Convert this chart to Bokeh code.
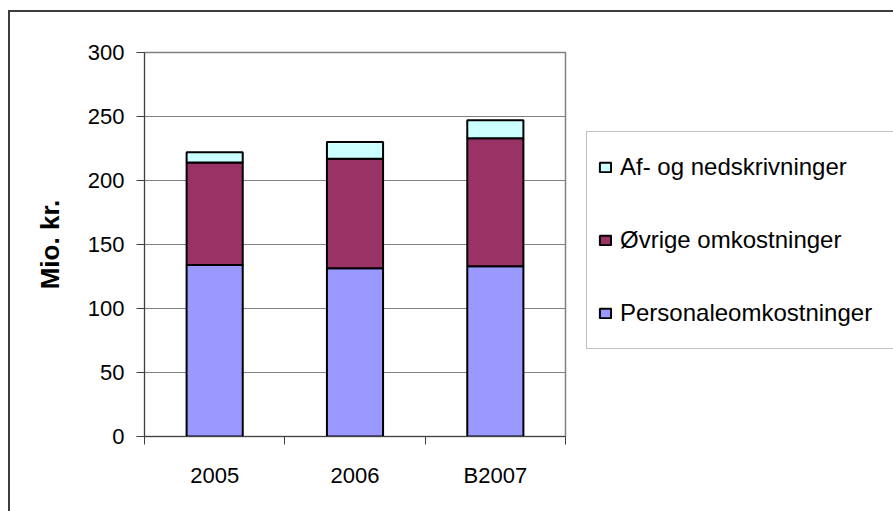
from bokeh.plotting import figure
from bokeh.layouts import row
from bokeh.models import Range1d, FixedTicker, Legend, LegendItem, ColumnDataSource
from bokeh.embed import file_html
from bokeh.resources import INLINE

# ---- data ----
categories = ["2005", "2006", "B2007"]
personale = [134, 131.5, 133]
ovrige = [80, 85.5, 100]
afskriv = [8, 13, 14]
series_names = ["Personaleomkostninger", "Øvrige omkostninger", "Af- og nedskrivninger"]
colors = ["#9999FF", "#993366", "#CCFFFF"]
y_ticks = [0, 50, 100, 150, 200, 250, 300]

FONT = "Liberation Sans"

xpos = [i + 0.5 for i in range(len(categories))]
src = ColumnDataSource(dict(x=xpos, personale=personale, ovrige=ovrige, af=afskriv))
stackers = ["personale", "ovrige", "af"]

H = 499
WP = 558
p = figure(width=WP, height=H, x_range=Range1d(0, len(categories)), y_range=Range1d(0, 300),
           output_backend="svg", toolbar_location=None,
           min_border_left=134, min_border_right=3, min_border_top=40, min_border_bottom=75)

renderers = p.vbar_stack(stackers, x="x", width=0.4, source=src,
                         fill_color=colors, line_color="black", line_width=2)

p.background_fill_color = "white"
p.border_fill_color = "white"
p.outline_line_color = "#808080"
p.outline_line_width = 1.5

p.xgrid.grid_line_color = None
p.ygrid.grid_line_color = "#808080"
p.ygrid.grid_line_width = 1

# y axis
p.yaxis.ticker = FixedTicker(ticks=y_ticks)
p.yaxis.major_tick_in = 0
p.yaxis.major_tick_out = 8
p.yaxis.minor_tick_line_color = None
p.yaxis.axis_line_color = "#404040"
p.yaxis.major_tick_line_color = "#404040"
p.yaxis.major_label_text_font = FONT
p.yaxis.major_label_text_font_size = "22px"
p.yaxis.major_label_text_color = "black"
p.yaxis.major_label_standoff = 12
p.yaxis.axis_label = "Mio. kr."
p.yaxis.axis_label_text_font = FONT
p.yaxis.axis_label_text_font_size = "26px"
p.yaxis.axis_label_text_font_style = "bold"
p.yaxis.axis_label_text_color = "black"
p.yaxis.axis_label_standoff = 20

# x axis
p.xaxis.ticker = FixedTicker(ticks=xpos, minor_ticks=list(range(len(categories) + 1)))
p.xaxis.major_label_overrides = {xpos[i]: categories[i] for i in range(len(categories))}
p.xaxis.major_tick_line_color = None
p.xaxis.major_tick_in = 0
p.xaxis.major_tick_out = 0
p.xaxis.minor_tick_in = 0
p.xaxis.minor_tick_out = 8
p.xaxis.minor_tick_line_color = "#404040"
p.xaxis.axis_line_color = "#404040"
p.xaxis.major_label_text_font = FONT
p.xaxis.major_label_text_font_size = "22px"
p.xaxis.major_label_text_color = "black"
p.xaxis.major_label_standoff = 18

# ---- legend panel (second figure without axes; its key bars are muted to invisible) ----
W2 = 883 - WP
p2 = figure(width=W2, height=H, x_range=Range1d(0, len(categories)), y_range=Range1d(0, 300),
            x_axis_type=None, y_axis_type=None, output_backend="svg",
            toolbar_location=None, min_border=0)
p2.outline_line_color = None
p2.background_fill_color = "white"
p2.border_fill_color = "white"
p2.xgrid.grid_line_color = None
p2.ygrid.grid_line_color = None

key_renderers = p2.vbar_stack(stackers, x="x", width=0.4, source=src,
                              fill_color=colors, line_color="black", line_width=2,
                              muted=True, muted_fill_alpha=0, muted_line_alpha=0)
items = [LegendItem(label=series_names[i], renderers=[key_renderers[i]]) for i in (2, 1, 0)]
legend = Legend(items=items, location=(18, 87), border_line_color="#808080",
                border_line_width=1.5, background_fill_color="white",
                padding=11, spacing=25, margin=0,
                label_text_font=FONT, label_text_font_size="24px", label_text_color="black",
                glyph_width=14, glyph_height=12, label_standoff=8,
                label_height=48, label_width=300)
p2.add_layout(legend)

layout = row(p, p2, spacing=0)
layout.styles = {"margin-left": "8px", "margin-top": "10px",
                 "border-left": "2px solid #3c3c3c", "border-top": "2px solid #3c3c3c"}

open("out.html", "w", encoding="utf-8").write(file_html(layout, INLINE))
